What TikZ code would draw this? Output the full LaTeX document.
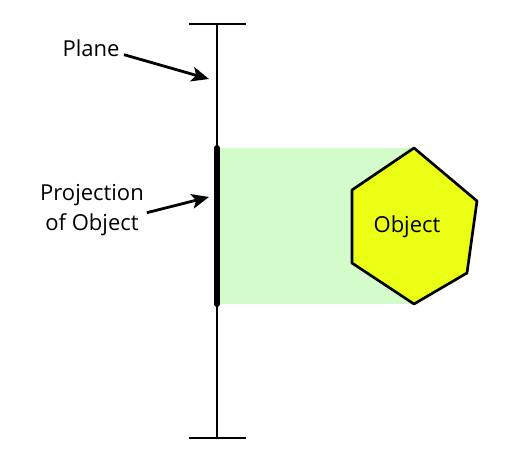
\documentclass[tikz,border=0pt]{standalone}
\usepackage{fontspec}
\setmainfont{Open Sans}
\usetikzlibrary{arrows.meta}
\definecolor{projgreen}{RGB}{212,252,203}
\definecolor{objyellow}{RGB}{234,255,20}
\tikzset{every picture/.style={line width=0.75pt}}
\tikzset{
  pointer/.style={line width=2.1, -{Stealth[length=13pt,width=11pt,inset=3pt]}},
  lbl/.style={font=\fontsize{16.5}{22.5}\selectfont, inner sep=1pt, align=center},
}

\begin{document}
\begin{tikzpicture}[x=0.75pt,y=0.75pt,yscale=-1,xscale=1]
	\useasboundingbox (0,0) rectangle (518,467);

	%Coordinates of the plane and the object
	\coordinate (planetop) at (217,24);
	\coordinate (planebot) at (217,438);
	\coordinate (projtop) at (217,148);
	\coordinate (projbot) at (217,304);
	\coordinate (hexT) at (414,148);
	\coordinate (hexUL) at (352,190);
	\coordinate (hexLL) at (352,263);
	\coordinate (hexB) at (414,304);
	\coordinate (hexLR) at (467,273);
	\coordinate (hexUR) at (477,201);

	%Shape: projection band
	\fill [projgreen] (219,148) rectangle (hexB) ;

	%Straight Lines: plane
	\draw [line width=2]  (planetop) -- (planebot) ;
	\draw [line width=2]  ([xshift=-21]planetop) -- ([xshift=22]planetop) ;
	\draw [line width=2]  ([xshift=-21]planebot) -- ([xshift=22]planebot) ;
	%Straight Lines: projection of object
	\draw [line width=4.5, line cap=round]  (projtop) -- (projbot) ;

	%Shape: hexagon
	\draw [fill=objyellow, line width=2, line join=round] (hexT) -- (hexUL) -- (hexLL) -- (hexB) -- (hexLR) -- (hexUR) -- cycle ;

	% Text Node
	\node [lbl] (object) at (407,227) {Object};
	% Text Node
	\node [lbl] (plane) at (91,48) {Plane};
	% Text Node
	\node [lbl, align=center] (projection) at (92,210) {Projection\\of Object};

	%Straight Lines: pointers
	\coordinate (planehit) at (209,79);
	\coordinate (projhit) at (209,197);
	\draw [pointer]  ([xshift=2,yshift=5]plane.east) -- (planehit) ;
	\draw [pointer]  ([xshift=1,yshift=2]projection.east) -- (projhit) ;

\end{tikzpicture}
\end{document}
